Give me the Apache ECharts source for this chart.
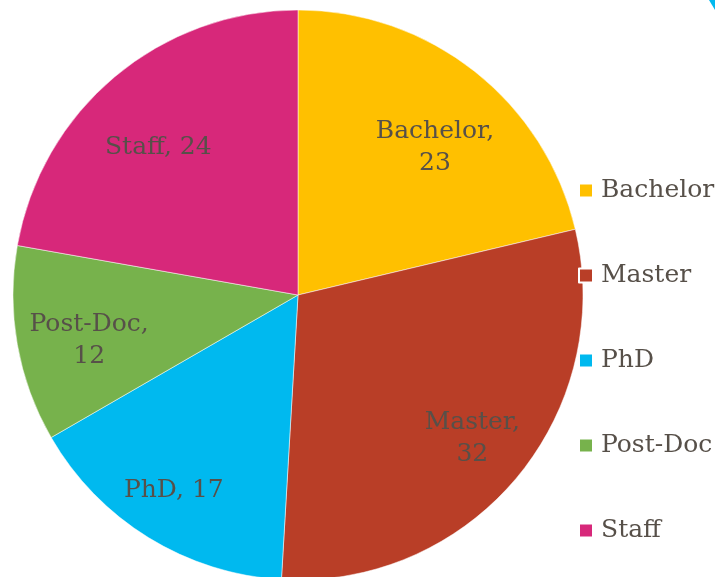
<!DOCTYPE html>
<html>
<head>
<meta charset="utf-8">
<script src="https://cdn.jsdelivr.net/npm/echarts@6/dist/echarts.min.js"></script>
<style>
  html, body { margin: 0; padding: 0; background: #fff; }
  #main { width: 715px; height: 577px; }
</style>
</head>
<body>
<div id="main"></div>
<script>
var categories = ['Bachelor', 'Master', 'PhD', 'Post-Doc', 'Staff'];
var counts = [23, 32, 17, 12, 24];
var colors = ['#FFC000', '#B93E27', '#00B9EF', '#77B24C', '#D7287A'];

// small nudges so the labels sit where the original put them
var labelNudge = {
  'Bachelor': [8, 16],
  'Master': [15, 10],
  'PhD': [-15, 18],
  'Post-Doc': [-4, 9],
  'Staff': [-6, 12]
};

var textColor = '#575049';
var fontFamily = '"DejaVu Serif", serif';

var pieData = categories.map(function (name, i) {
  return { name: name, value: counts[i], itemStyle: { color: colors[i] } };
});

var labelData = categories.map(function (name, i) {
  return {
    name: name + ' ',
    value: counts[i],
    label: { offset: labelNudge[name] }
  };
});

var myChart = echarts.init(document.getElementById('main'));
var option = {
  animation: false,
  legend: {
    orient: 'vertical',
    left: 578,
    top: 178,
    padding: 0,
    itemWidth: 14,
    itemHeight: 14,
    itemGap: 60,
    icon: 'rect',
    textStyle: { color: textColor, fontFamily: fontFamily, fontSize: 25, padding: [0, 0, 0, 3] },
    data: categories
  },
  graphic: [{
    type: 'polygon',
    shape: { points: [[709, 0], [715, 0], [715, 10]] },
    style: { fill: '#00B9EF' }
  }],
  series: [
    {
      type: 'pie',
      center: [298, 295],
      radius: [0, 285],
      startAngle: 90,
      clockwise: true,
      label: { show: false },
      labelLine: { show: false },
      itemStyle: { borderColor: '#fff', borderWidth: 0.5 },
      emphasis: { disabled: true },
      data: pieData
    },
    {
      // transparent ring, only used to place the labels further out
      type: 'pie',
      center: [298, 295],
      radius: [125, 285],
      startAngle: 90,
      clockwise: true,
      silent: true,
      legendHoverLink: false,
      itemStyle: { color: 'rgba(0,0,0,0)' },
      emphasis: { disabled: true },
      label: {
        show: true,
        position: 'inside',
        color: textColor,
        fontFamily: fontFamily,
        fontSize: 25,
        lineHeight: 32,
        formatter: function (p) {
          var n = p.name.trim();
          if (n === 'PhD' || n === 'Staff') return n + ', ' + p.value;
          return n + ',\n' + p.value;
        }
      },
      labelLine: { show: false },
      data: labelData
    }
  ]
};
myChart.setOption(option);
</script>
</body>
</html>
